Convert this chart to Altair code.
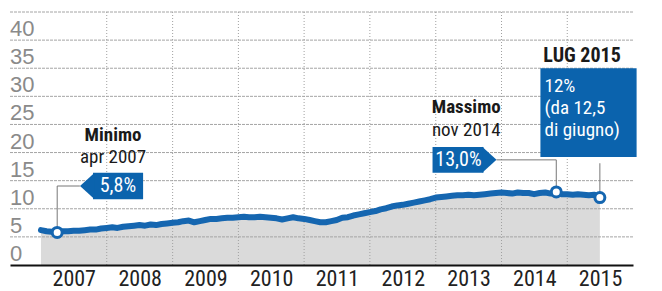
import altair as alt
import pandas as pd

BLUE = "#0b63ad"
LINE_BLUE = "#1566b0"
NARROW = "Roboto Condensed, Liberation Sans Narrow, DejaVu Sans Condensed, sans-serif"
FS = 19

# ---- data ----
months = [d.strftime("%Y-%m-%d") for d in pd.date_range("2007-01-01", "2015-07-01", freq="MS")]
rate = [
    6.2, 6.0, 5.9, 5.8, 6.0, 6.0, 6.1, 6.1, 6.2, 6.3, 6.3, 6.5,      # 2007
    6.6, 6.7, 6.6, 6.8, 6.9, 7.0, 7.1, 7.0, 7.2, 7.1, 7.3, 7.4,      # 2008
    7.5, 7.6, 7.8, 7.9, 7.6, 7.8, 8.0, 8.2, 8.2, 8.3, 8.4, 8.4,      # 2009
    8.5, 8.6, 8.5, 8.5, 8.6, 8.5, 8.4, 8.3, 8.1, 8.3, 8.5, 8.3,      # 2010
    8.2, 8.0, 7.8, 7.6, 7.6, 7.8, 8.0, 8.4, 8.5, 8.8, 9.0, 9.2,      # 2011
    9.4, 9.6, 9.9, 10.1, 10.4, 10.6, 10.7, 10.9, 11.1, 11.3, 11.5, 11.7,  # 2012
    12.0, 12.1, 12.2, 12.3, 12.4, 12.4, 12.5, 12.4, 12.5, 12.6, 12.7, 12.8,  # 2013
    12.9, 12.8, 12.7, 12.9, 12.8, 12.8, 12.6, 12.8, 12.9, 12.7, 13.0, 12.6,  # 2014
    12.6, 12.5, 12.6, 12.5, 12.4, 12.5, 12.0,                          # 2015
]
year_labels = ["2007", "2008", "2009", "2010", "2011", "2012", "2013", "2014", "2015"]
year_bounds = ["2008", "2009", "2010", "2011", "2012", "2013", "2014", "2015"]
y_ticks = [0, 5, 10, 15, 20, 25, 30, 35, 40]
y_grid = [5, 10, 15, 20, 25, 30, 35, 40, 45]

hl_dates = ["2007-04-01", "2014-11-01", "2015-07-01"]
hl_values = [5.8, 13.0, 12.0]

df = pd.DataFrame({"date": months, "v": rate})
hl = pd.DataFrame({"date": hl_dates, "v": hl_values})
vgrid = pd.DataFrame({"date": [f"{y}-01-01" for y in year_bounds]})
hgrid = pd.DataFrame({"v": y_grid})
ylab = pd.DataFrame({"date": ["2006-07-13"] * len(y_ticks), "v": y_ticks,
                     "t": [str(t) for t in y_ticks]})

# annotations
bold_c = pd.DataFrame({"date": ["2008-02-05", "2013-06-19"], "v": [22.0, 27.1],
                       "t": ["Minimo", "Massimo"]})
reg_c = pd.DataFrame({"date": ["2008-02-05", "2013-06-19"], "v": [18.1, 23.0],
                      "t": ["apr 2007", "nov 2014"]})
bold_l = pd.DataFrame({"date": ["2014-08-21"], "v": [36.1], "t": ["LUG 2015"]})
tag_rects = pd.DataFrame({"d1": ["2007-10-17", "2012-12-14", "2014-08-05"],
                          "d2": ["2008-07-21", "2013-09-23", "2016-01-21"],
                          "v1": [16.4, 21.0, 35.0], "v2": [11.7, 16.4, 19.2]})
tri_l = pd.DataFrame({"date": ["2007-10-17"], "v": [14.05]})
tri_r = pd.DataFrame({"date": ["2013-09-23"], "v": [18.7]})
tag_txt_c = pd.DataFrame({"date": ["2008-03-03", "2013-05-07"], "v": [14.05, 18.7],
                          "t": ["5,8%", "13,0%"]})
tag_txt_l = pd.DataFrame({"date": ["2014-08-28"] * 3, "v": [30.8, 26.9, 23.0],
                          "t": ["12%", "(da 12,5", "di giugno)"]})
conn = pd.DataFrame({
    "g": [1, 1, 1, 2, 2, 2, 3, 3],
    "s": [0, 1, 2, 0, 1, 2, 0, 1],
    "date": ["2007-04-01", "2007-04-01", "2007-08-05",
             "2013-12-04", "2014-11-01", "2014-11-01",
             "2015-07-01", "2015-07-01"],
    "v": [5.8, 14.05, 14.05, 18.7, 18.7, 13.0, 12.0, 18.1],
})

xs = alt.Scale(domain=["2006-07-13", "2016-01-01"], nice=False)
ys = alt.Scale(domain=[0, 45], nice=False, zero=True)


def X(field="date"):
    return alt.X(f"{field}:T", scale=xs, title=None)


def Y(field="v"):
    return alt.Y(f"{field}:Q", scale=ys, title=None)


area = alt.Chart(df).mark_area(color="#dadada").encode(
    x=alt.X("date:T", scale=xs, title=None,
            axis=alt.Axis(values=[f"{y}-07-02" for y in year_labels], format="%Y",
                          grid=False, ticks=False, domain=True, domainColor="#111",
                          domainWidth=2, labelFont=NARROW, labelFontSize=22,
                          labelColor="#222", labelPadding=3, labelFlush=False,
                          labelOverlap=False, zindex=1)),
    y=alt.Y("v:Q", scale=ys, title=None, axis=None),
)

ylabels = alt.Chart(ylab).mark_text(font="Liberation Sans", fontSize=22, color="#8a8a8a",
                                    align="left", baseline="bottom", dy=1).encode(
    x=X(), y=Y(), text="t:N")

hrules = alt.Chart(hgrid).mark_rule(color="#a4a4a4", strokeWidth=1, strokeDash=[3, 1]).encode(
    y=Y())
vrules = alt.Chart(vgrid).mark_rule(color="#a0a0a0", strokeWidth=1, strokeDash=[1, 2]).encode(
    x=X())

line = alt.Chart(df).mark_line(color=LINE_BLUE, strokeWidth=6, strokeJoin="round",
                               strokeCap="round").encode(x=X(), y=Y())

connectors = alt.Chart(conn).mark_line(color="#777", strokeWidth=1).encode(
    x=X(), y=Y(), detail="g:N", order="s:Q")

points = alt.Chart(hl).mark_point(shape="circle", filled=True, fill="white", stroke=LINE_BLUE,
                                  strokeWidth=3, size=100, opacity=1).encode(x=X(), y=Y())

rects = alt.Chart(tag_rects).mark_rect(color=BLUE).encode(
    x=alt.X("d1:T", scale=xs, title=None), x2="d2:T",
    y=alt.Y("v1:Q", scale=ys, title=None), y2="v2:Q")

tril = alt.Chart(tri_l).mark_point(shape="M 0.1 -1 L -1 0 L 0.1 1 Z", filled=True, color=BLUE,
                                   size=676, opacity=1, strokeWidth=0).encode(x=X(), y=Y())
trir = alt.Chart(tri_r).mark_point(shape="M -0.1 -1 L 1 0 L -0.1 1 Z", filled=True, color=BLUE,
                                   size=676, opacity=1, strokeWidth=0).encode(x=X(), y=Y())

t_bold_c = alt.Chart(bold_c).mark_text(font=NARROW, fontSize=FS, fontWeight="bold",
                                       color="#1a1a1a", align="center",
                                       baseline="alphabetic").encode(x=X(), y=Y(), text="t:N")
t_reg_c = alt.Chart(reg_c).mark_text(font=NARROW, fontSize=FS, color="#1a1a1a",
                                     align="center", baseline="alphabetic").encode(
    x=X(), y=Y(), text="t:N")
t_bold_l = alt.Chart(bold_l).mark_text(font=NARROW, fontSize=FS + 1, fontWeight="bold",
                                       color="#1a1a1a", align="left",
                                       baseline="alphabetic").encode(x=X(), y=Y(), text="t:N")
t_tag_c = alt.Chart(tag_txt_c).mark_text(font=NARROW, fontSize=FS + 1, color="white",
                                         align="center", baseline="middle").encode(
    x=X(), y=Y(), text="t:N")
t_tag_l = alt.Chart(tag_txt_l).mark_text(font=NARROW, fontSize=FS, color="white",
                                         align="left", baseline="alphabetic").encode(
    x=X(), y=Y(), text="t:N")

chart = alt.layer(
    area, hrules, vrules, ylabels, line, connectors, points, rects, tril, trir,
    t_bold_c, t_reg_c, t_bold_l, t_tag_c, t_tag_l,
).properties(
    width=623, height=253,
    autosize=alt.AutoSizeParams(type="none"),
    padding={"left": 2, "top": 4, "right": 20, "bottom": 26},
    background="white",
).configure_view(stroke=None)

chart.save("out.html", embed_options={"renderer": "svg", "actions": False})
